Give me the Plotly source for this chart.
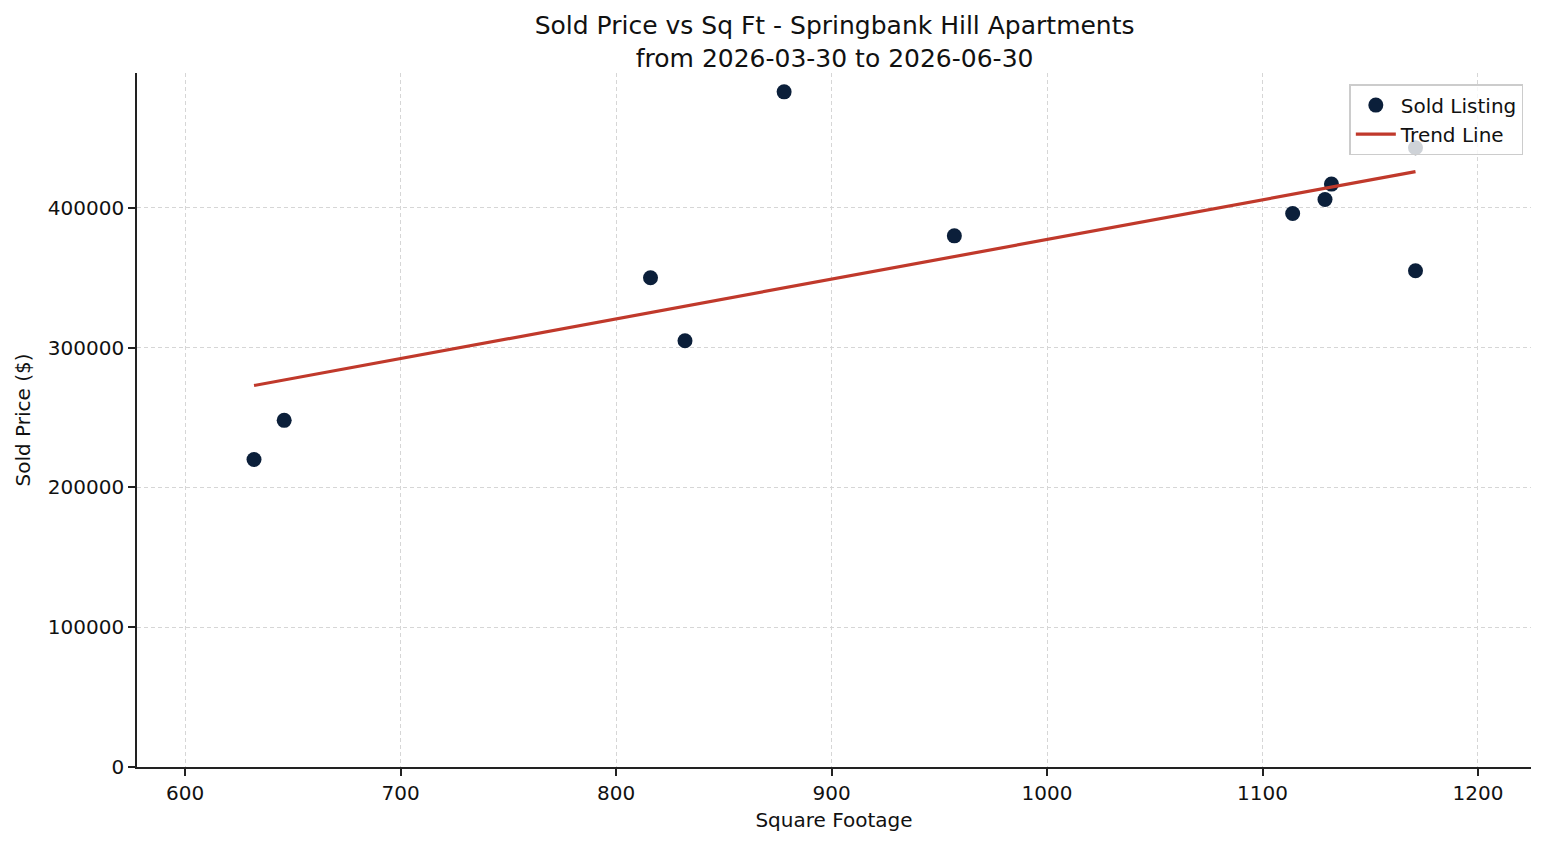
import numpy as np
import plotly.graph_objects as go

sqft = [632, 646, 816, 832, 878, 957, 1114, 1129, 1132, 1171, 1171]
price = [220000, 248000, 350000, 305000, 483000, 380000, 396000, 406000, 417000, 443000, 355000]
x_ticks = [600, 700, 800, 900, 1000, 1100, 1200]
y_ticks = [0, 100000, 200000, 300000, 400000]

coef = np.polyfit(sqft, price, 1)
tx = [min(sqft), max(sqft)]
ty = [coef[0] * v + coef[1] for v in tx]

font = "DejaVu Sans"
fig = go.Figure()
fig.add_trace(go.Scatter(x=sqft, y=price, mode="markers", name="Sold Listing",
                         marker=dict(size=15, color="#0b1f3a", line=dict(width=0))))
fig.add_trace(go.Scatter(x=tx, y=ty, mode="lines", name="Trend Line",
                         line=dict(color="#c0392b", width=3.2)))

axis_common = dict(showline=True, linecolor="#222", linewidth=1.6, ticks="outside",
                   ticklen=7, tickcolor="#222", tickwidth=1.6,
                   showgrid=True, gridcolor="#d6d6d6", griddash="4px,3px", gridwidth=0.8,
                   zeroline=False, tickfont=dict(family=font, size=20, color="#111"),
                   mirror=False)
fig.update_layout(
    width=1547, height=845,
    margin=dict(l=137, r=16, t=73, b=78),
    paper_bgcolor="white", plot_bgcolor="white",
    font=dict(family=font, color="#111"),
    title=dict(text="Sold Price vs Sq Ft - Springbank Hill Apartments<br>from 2026-03-30 to 2026-06-30",
               x=0.5395, xanchor="center", y=1 - 34 / 845, yanchor="middle",
               font=dict(family=font, size=25, color="#111")),
    xaxis=dict(axis_common, range=[577.7, 1224.6], tickvals=x_ticks,
               title=dict(text="Square Footage", font=dict(family=font, size=20), standoff=9)),
    yaxis=dict(axis_common, range=[0, 496500], tickvals=y_ticks,
               ticktext=[str(v) for v in y_ticks],
               title=dict(text="Sold Price ($)", font=dict(family=font, size=20), standoff=12)),
    legend=dict(x=0.9945, xanchor="right", y=0.984, yanchor="top",
                bgcolor="rgba(255,255,255,0.8)", bordercolor="#cccccc", borderwidth=1.5,
                font=dict(family=font, size=20), itemwidth=40, tracegroupgap=0),
    showlegend=True,
)
fig.write_html("out.html")
